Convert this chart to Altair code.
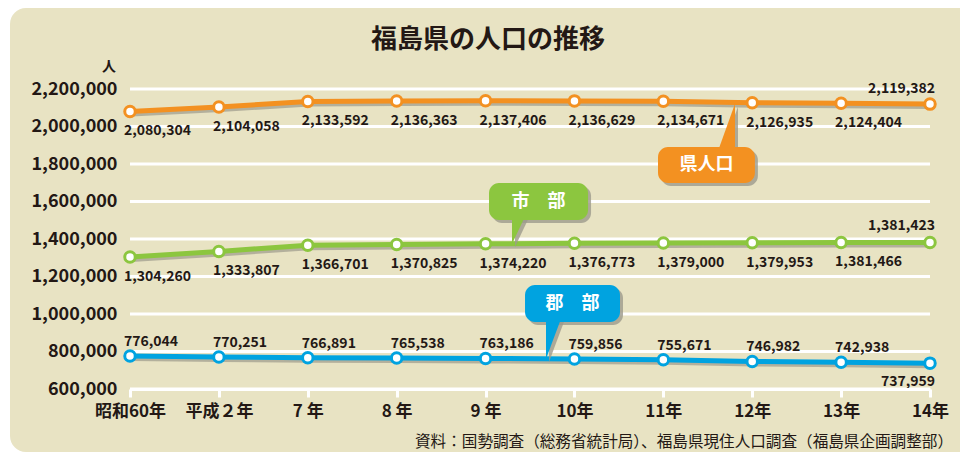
import altair as alt
import pandas as pd

# ---- data ----
years = ["昭和60年", "平成２年", "7 年", "8 年", "9 年", "10年", "11年", "12年", "13年", "14年"]
pref = [2080304, 2104058, 2133592, 2136363, 2137406, 2136629, 2134671, 2126935, 2124404, 2119382]
city = [1304260, 1333807, 1366701, 1370825, 1374220, 1376773, 1379000, 1379953, 1381466, 1381423]
county = [776044, 770251, 766891, 765538, 763186, 759856, 755671, 746982, 742938, 737959]
y_ticks = [600000, 800000, 1000000, 1200000, 1400000, 1600000, 1800000, 2000000, 2200000]

title_text = "福島県の人口の推移"
unit_text = "人"
source_text = "資料：国勢調査（総務省統計局）、福島県現住人口調査（福島県企画調整部）"

# ---- style ----
W, H = 800, 300
FONT = "Noto Sans CJK JP"
TXT = "#231815"
ORANGE = "#f39121"
GREEN = "#8cc63f"
BLUE = "#00a3e0"
BG = "#e8e3c3"
SHADOW = "#9c9a8c"

idx = list(range(len(years)))
last = len(years) - 1

xs = alt.Scale(domain=[0, last], nice=False, zero=False)
ys = alt.Scale(domain=[y_ticks[0], y_ticks[-1]], nice=False, zero=False)
label_expr = "[" + ",".join(f"'{y}'" for y in years) + "][datum.value]"
x_axis = alt.Axis(values=idx, labelExpr=label_expr, title=None, grid=False,
                  domainColor="white", domainWidth=3, tickColor="white", tickWidth=3,
                  tickSize=8, labelFont=FONT, labelFontSize=17, labelFontWeight="bold",
                  labelColor=TXT, labelPadding=6, labelOverlap=False, labelFlush=False,
                  labelBound=False, zindex=1)
y_axis = alt.Axis(values=y_ticks, labelExpr="format(datum.value, ',')", title=None,
                  grid=False, domain=False, ticks=False, labelFont=FONT, labelFontSize=18,
                  labelFontWeight="bold", labelColor=TXT, labelPadding=13,
                  labelOverlap=False, labelFlush=False, labelBound=False, zindex=1)


def X(field="idx"):
    return alt.X(f"{field}:Q", scale=xs, axis=x_axis)


def Y(field="value"):
    return alt.Y(f"{field}:Q", scale=ys, axis=y_axis)


one = pd.DataFrame({"k": [0]})

# background panel
bg = alt.Chart(one).mark_rect(color=BG, cornerRadius=16).encode(
    x=alt.value(-120), x2=alt.value(850), y=alt.value(-81), y2=alt.value(363))

# gridlines
grid = alt.Chart(pd.DataFrame({"value": y_ticks})).mark_rule(color="white", strokeWidth=3).encode(
    y=Y(), x=alt.value(0), x2=alt.value(W))

layers = [bg, grid]

series = [
    (pref, ORANGE, 20, -15),
    (city, GREEN, 20, -16),
    (county, BLUE, -14, 19),
]

for vals, color, dy_main, dy_last in series:
    df = pd.DataFrame({"idx": idx, "value": vals})
    base = alt.Chart(df)
    layers.append(base.mark_line(color=SHADOW, strokeWidth=5, opacity=0.7,
                                 xOffset=1.5, yOffset=2.5).encode(x=X(), y=Y()))
    layers.append(base.mark_line(color=color, strokeWidth=5).encode(x=X(), y=Y()))
    layers.append(base.mark_point(filled=True, fill="white", stroke=color, strokeWidth=3,
                                  size=110, opacity=1, strokeOpacity=1).encode(x=X(), y=Y()))
    layers.append(base.transform_filter(f"datum.idx < {last}").mark_text(
        align="left", baseline="middle", dx=-6, dy=dy_main, font=FONT, fontSize=14,
        fontWeight="bold", color=TXT).encode(x=X(), y=Y(), text=alt.Text("value:Q", format=",")))
    layers.append(base.transform_filter(f"datum.idx == {last}").mark_text(
        align="right", baseline="middle", dx=5, dy=dy_last, font=FONT, fontSize=14,
        fontWeight="bold", color=TXT).encode(x=X(), y=Y(), text=alt.Text("value:Q", format=",")))

# callouts (anchored in data units)
callouts = [
    # text, color, box (x1, x2, y1, y2), tail [(x, y, y2), ...], text pos (x, y)
    ("県人口", ORANGE, (5.94, 7.03, 1698667, 1890667),
     [(6.615, 1870000, 1870000), (6.806, 2122000, 1870000)], (6.486, 1794667)),
    ("市　部", GREEN, (4.039, 5.153, 1501333, 1698667),
     [(4.2975, 1373000, 1520000), (4.444, 1520000, 1520000)], (4.596, 1600000)),
    ("郡　部", BLUE, (4.444, 5.5125, 957333, 1154667),
     [(4.68, 760000, 975000), (4.849, 975000, 975000)], (4.978, 1056000)),
]

for text, color, box, tail, tpos in callouts:
    bdf = pd.DataFrame({"x1": [box[0]], "x2": [box[1]], "y1": [box[2]], "y2": [box[3]]})
    tdf = pd.DataFrame({"idx": [p[0] for p in tail], "value": [p[1] for p in tail],
                        "v2": [p[2] for p in tail]})
    enc_box = dict(x=X("x1"), x2=alt.X2("x2"), y=Y("y1"), y2=alt.Y2("y2"))
    enc_tail = dict(x=X(), y=Y(), y2=alt.Y2("v2"))
    layers.append(alt.Chart(tdf).mark_area(color=SHADOW, opacity=0.8, xOffset=3, yOffset=3)
                  .encode(**enc_tail))
    layers.append(alt.Chart(bdf).mark_rect(color=SHADOW, opacity=0.8, cornerRadius=10,
                                           xOffset=3, x2Offset=3, yOffset=3, y2Offset=3)
                  .encode(**enc_box))
    layers.append(alt.Chart(tdf).mark_area(color=color, opacity=1).encode(**enc_tail))
    layers.append(alt.Chart(bdf).mark_rect(color=color, cornerRadius=10).encode(**enc_box))
    layers.append(alt.Chart(pd.DataFrame({"idx": [tpos[0]], "value": [tpos[1]], "t": [text]}))
                  .mark_text(font=FONT, fontSize=18, fontWeight="bold", color="white",
                             baseline="middle", align="center")
                  .encode(x=X(), y=Y(), text="t:N"))

# title, unit, source
layers.append(alt.Chart(one).mark_text(text=title_text, font=FONT, fontSize=26, fontWeight="bold",
                                       color=TXT, align="center", baseline="middle")
              .encode(x=alt.value(358), y=alt.value(-49)))
layers.append(alt.Chart(one).mark_text(text=unit_text, font=FONT, fontSize=14, fontWeight="bold",
                                       color=TXT, align="center", baseline="middle")
              .encode(x=alt.value(-21), y=alt.value(-22)))
layers.append(alt.Chart(one).mark_text(text=source_text, font=FONT, fontSize=15.6,
                                       color=TXT, align="right", baseline="middle")
              .encode(x=alt.value(823), y=alt.value(353)))

chart = alt.layer(*layers).properties(
    width=W, height=H,
    autosize=alt.AutoSizeParams(type="none"),
    padding={"left": 122, "top": 81, "right": 30, "bottom": 63},
    background="white",
).configure_view(stroke=None, fill=None)

chart.save("out.html", embed_options={"renderer": "svg", "actions": False})
